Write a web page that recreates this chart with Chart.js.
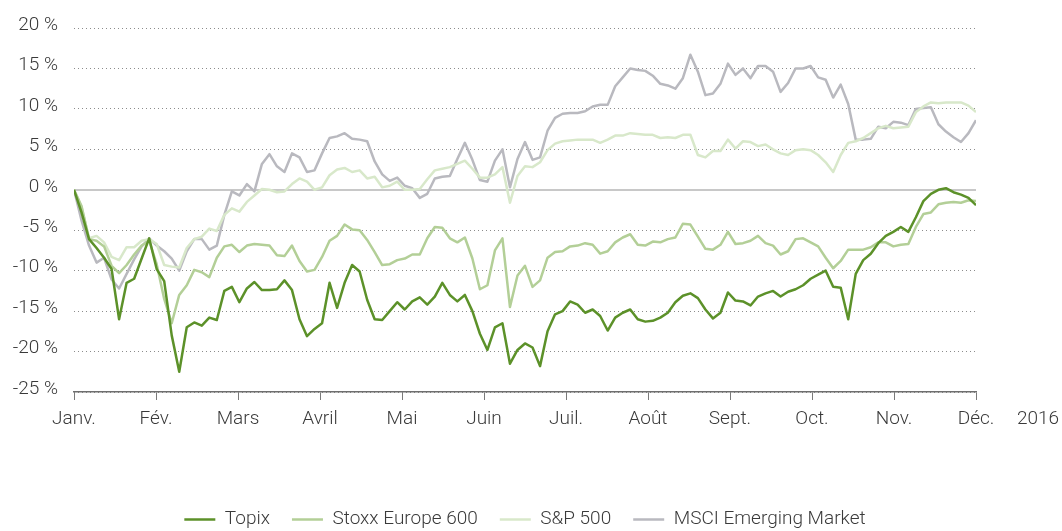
<!DOCTYPE html>
<html lang="fr">
<head>
<meta charset="utf-8">
<title>Indices 2016</title>
<script src="https://cdn.jsdelivr.net/npm/chart.js@4.4.1/dist/chart.umd.min.js"></script>
<style>
  html, body { margin: 0; padding: 0; background: #ffffff; }
  #wrap { width: 1062px; height: 531px; }
</style>
</head>
<body>
<div id="wrap"><canvas id="grafica"></canvas></div>
<script>
// Etiquetas del eje x (meses) y año
const months = ["Janv.", "Fév.", "Mars", "Avril", "Mai", "Juin", "Juil.", "Août", "Sept.", "Oct.", "Nov.", "Déc."];
const yearLabel = "2016";

// Nombres de las series
const seriesNames = ["Topix", "Stoxx Europe 600", "S&P 500", "MSCI Emerging Market"];

// Valores en %, muestreados a intervalos regulares de enero a diciembre
const topix = [
    0, -2.8, -6.1, -7.2, -8.4, -9.8, -16, -11.5, -11.0, -8.5,
    -6.0, -9.8, -11.3, -18.0, -22.5, -17.0, -16.4, -16.8, -15.8, -16.1,
    -12.5, -12.0, -13.9, -12.2, -11.4, -12.4, -12.4, -12.3, -11.2, -12.4,
    -16.0, -18.1, -17.2, -16.5, -11.5, -14.6, -11.5, -9.3, -10.1, -13.6,
    -16.0, -16.1, -15.0, -13.9, -14.8, -13.8, -13.3, -14.2, -13.2, -11.5,
    -13.0, -13.8, -13.0, -15.0, -17.8, -19.8, -17.0, -16.5, -21.5, -19.8,
    -19.0, -19.5, -21.8, -17.5, -15.4, -15.0, -13.8, -14.2, -15.2, -14.8,
    -15.6, -17.4, -15.8, -15.2, -14.8, -16.0, -16.3, -16.2, -15.8, -15.2,
    -13.9, -13.1, -12.8, -13.4, -14.8, -15.9, -15.2, -12.7, -13.7, -13.8,
    -14.3, -13.2, -12.8, -12.5, -13.2, -12.6, -12.3, -11.8, -11.0, -10.5,
    -10.0, -12.0, -12.1, -16.0, -10.4, -8.7, -7.9, -6.6, -5.7, -5.2,
    -4.6, -5.2, -3.4, -1.4, -0.5, 0.0, 0.2, -0.3, -0.6, -1.0,
    -1.9
];

const stoxx = [
    0, -2.0, -6.1, -6.3, -7.0, -9.4, -10.3, -9.3, -8.0, -6.9,
    -6.3, -9.2, -13.5, -16.5, -13.0, -11.8, -9.9, -10.2, -10.8, -8.4,
    -7.0, -6.8, -7.7, -6.9, -6.7, -6.8, -6.9, -8.1, -8.2, -6.9,
    -8.8, -10.1, -9.9, -8.3, -6.3, -5.7, -4.3, -4.9, -5.0, -6.2,
    -7.7, -9.3, -9.2, -8.7, -8.5, -8.0, -8.0, -6.0, -4.6, -4.7,
    -6.0, -6.5, -5.9, -8.5, -12.3, -11.8, -7.5, -6.0, -14.5, -10.6,
    -9.4, -12.0, -11.2, -8.4, -7.7, -7.6, -7.0, -6.9, -6.6, -6.8,
    -7.9, -7.6, -6.5, -5.9, -5.5, -6.8, -6.9, -6.4, -6.5, -6.1,
    -5.9, -4.2, -4.3, -5.8, -7.3, -7.4, -6.8, -5.2, -6.7, -6.6,
    -6.3, -5.7, -6.6, -6.9, -8.0, -7.6, -6.1, -6.0, -6.5, -7.0,
    -8.4, -9.7, -8.8, -7.4, -7.4, -7.4, -7.1, -6.5, -6.5, -7.0,
    -6.8, -6.7, -4.6, -3.0, -2.8, -1.8, -1.6, -1.5, -1.6, -1.3,
    -1.4
];

const sp500 = [
    0, -2.1, -6.0, -5.7, -6.5, -8.3, -8.7, -7.1, -7.1, -6.3,
    -6.1, -6.7, -9.3, -9.5, -9.6, -7.2, -6.1, -5.8, -4.8, -5.1,
    -3.1, -2.3, -2.7, -1.5, -0.7, 0.1, 0.0, -0.3, -0.2, 0.7,
    1.4, 1.0, 0.0, 0.3, 1.8, 2.5, 2.7, 2.2, 2.4, 1.4,
    1.6, 0.3, 0.5, 1.0, 0.0, 0.0, 0.1, 1.3, 2.4, 2.6,
    2.8, 3.2, 3.6, 2.6, 1.5, 1.5, 1.9, 2.8, -1.6, 1.7,
    2.9, 2.8, 3.4, 4.9, 5.7, 6.0, 6.1, 6.2, 6.2, 6.2,
    5.8, 6.2, 6.7, 6.7, 7.0, 6.9, 6.8, 6.8, 6.4, 6.5,
    6.4, 6.8, 6.8, 4.3, 4.0, 4.8, 4.8, 6.2, 5.1, 6.0,
    5.9, 5.4, 5.6, 5.0, 4.5, 4.3, 4.9, 5.0, 4.9, 4.3,
    3.4, 2.2, 4.3, 5.8, 6.0, 6.4, 7.0, 7.6, 7.9, 7.6,
    7.7, 7.8, 9.6, 10.3, 10.8, 10.7, 10.8, 10.8, 10.8, 10.4,
    9.6
];

const msciEm = [
    0, -3.8, -6.9, -9.0, -8.4, -11.1, -12.2, -10.4, -8.6, -7.0,
    -6.0, -6.9, -7.6, -8.5, -10.0, -7.6, -6.1, -6.1, -7.4, -6.9,
    -3.1, -0.2, -0.7, 0.7, -0.2, 3.2, 4.4, 2.9, 2.2, 4.5,
    4.0, 2.2, 2.4, 4.5, 6.4, 6.6, 7.0, 6.3, 6.2, 6.0,
    3.5, 1.9, 1.1, 1.5, 0.5, 0.2, -1.0, -0.5, 1.4, 1.6,
    1.7, 3.8, 5.8, 3.7, 1.2, 1.0, 3.6, 5.0, 0.3, 3.8,
    5.9, 3.7, 4.0, 7.3, 8.9, 9.4, 9.5, 9.5, 9.7, 10.3,
    10.5, 10.5, 12.8, 13.9, 15.0, 14.8, 14.7, 14.1, 13.1, 12.9,
    12.5, 13.8, 16.7, 14.6, 11.7, 11.9, 13.1, 15.6, 14.2, 15.0,
    13.8, 15.3, 15.3, 14.6, 12.1, 13.2, 15.0, 15.0, 15.3, 13.9,
    13.6, 11.4, 13.0, 10.6, 6.2, 6.2, 6.3, 7.8, 7.6, 8.4,
    8.3, 8.0, 10.0, 10.1, 10.2, 8.1, 7.2, 6.5, 5.9, 7.0,
    8.6
];

// Colores de cada serie
const colors = ["#5c9129", "#b3cf97", "#d8e8ca", "#b9b9bf"];

const fontFamily = "Roboto, 'Liberation Sans', sans-serif";
const fontSize = 19;
const textColor = "#3a3a3a";

// Convierte una lista de valores en puntos {x, y}, con x en meses (0 = enero, 11 = diciembre)
function toPoints(values) {
    const last = values.length - 1;
    return values.map((v, i) => ({ x: i * (months.length - 1) / last, y: v }));
}

// Plugin para escribir el año a la derecha del eje x
// y para centrar la leyenda bajo el área de la gráfica
const yearPlugin = {
    id: "yearPlugin",
    afterLayout(chart) {
        const legend = chart.legend;
        const shift = (chart.chartArea.left + chart.chartArea.right) / 2 - (legend.left + legend.right) / 2;
        legend.left += shift;
        legend.right += shift;
    },
    afterDraw(chart) {
        const xs = chart.scales.x;
        const ctx = chart.ctx;
        ctx.save();
        ctx.font = "300 " + fontSize + "px " + fontFamily;
        ctx.fillStyle = textColor;
        ctx.textAlign = "center";
        ctx.textBaseline = "middle";
        ctx.fillText(yearLabel, xs.right + 62, xs.top + 8 + 8 + fontSize * 0.6);
        ctx.restore();
    }
};

const seriesValues = [topix, stoxx, sp500, msciEm];

new Chart(document.getElementById("grafica"), {
    type: "line",
    data: {
        datasets: seriesValues.map((values, i) => ({
            label: seriesNames[i],
            data: toPoints(values),
            borderColor: colors[i],
            backgroundColor: colors[i],
            borderWidth: 2.5,
            pointRadius: 0,
            tension: 0,
            borderJoinStyle: "round",
            fill: false
        }))
    },
    options: {
        responsive: true,
        maintainAspectRatio: false,
        animation: false,
        layout: {
            padding: { top: 28, right: 86, bottom: -8, left: 0 }
        },
        scales: {
            x: {
                type: "linear",
                min: 0,
                max: months.length - 1,
                afterFit(scale) { scale.height = 96; },
                ticks: {
                    stepSize: 1,
                    autoSkip: false,
                    maxRotation: 0,
                    padding: 8,
                    color: textColor,
                    font: { family: fontFamily, size: fontSize, weight: 300 },
                    callback: (value) => months[value]
                },
                grid: {
                    drawOnChartArea: false,
                    drawTicks: true,
                    tickLength: 8,
                    tickColor: "#7a7a7a",
                    tickWidth: 1
                },
                border: { display: true, color: "#6e6e6e", width: 1.5 }
            },
            y: {
                min: -25,
                max: 20,
                afterFit(scale) { scale.width = 74; },
                ticks: {
                    stepSize: 5,
                    padding: 16,
                    labelOffset: -3,
                    color: textColor,
                    font: { family: fontFamily, size: fontSize, weight: 300 },
                    callback: (value) => value + " %"
                },
                grid: {
                    drawTicks: false,
                    color: (ctx) => ctx.tick && ctx.tick.value === 0 ? "#c8c8c8" : "#8c8c8c",
                    lineWidth: (ctx) => ctx.tick && ctx.tick.value === 0 ? 2 : 1
                },
                border: {
                    display: false,
                    dash: (ctx) => ctx.tick && ctx.tick.value === 0 ? [] : [1, 3]
                }
            }
        },
        plugins: {
            legend: {
                position: "bottom",
                labels: {
                    usePointStyle: true,
                    pointStyle: "line",
                    pointStyleWidth: 31,
                    padding: 22,
                    color: textColor,
                    font: { family: fontFamily, size: fontSize, weight: 300 }
                }
            },
            tooltip: { enabled: false }
        }
    },
    plugins: [yearPlugin]
});
</script>
</body>
</html>
